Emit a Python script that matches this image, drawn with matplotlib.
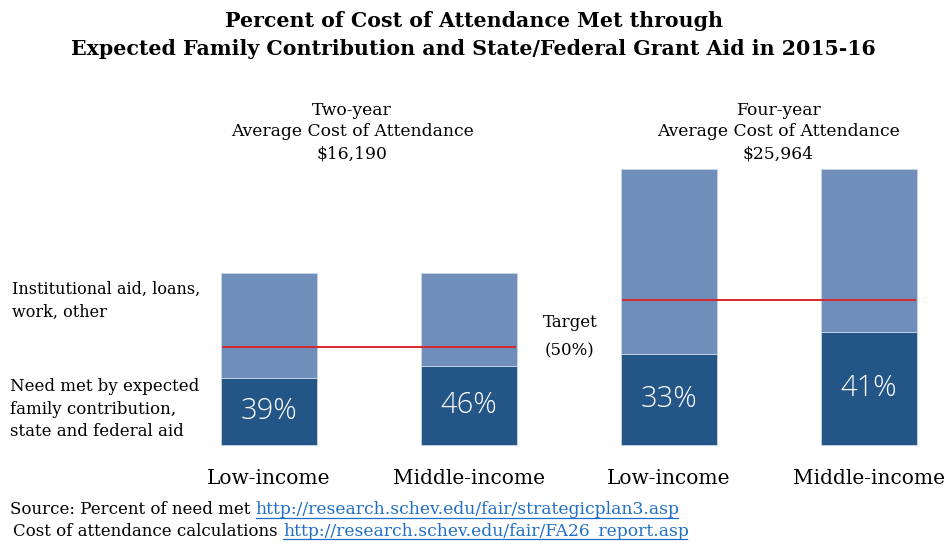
import matplotlib
matplotlib.use("Agg")
import matplotlib.pyplot as plt
from matplotlib.lines import Line2D

# data
categories = ["Low-income", "Middle-income", "Low-income", "Middle-income"]
groups = ["Two-year", "Four-year"]
group_cost = [16190, 25964]
cost = [16190, 16190, 25964, 25964]
pct_met = [39, 46, 33, 41]
# target line level as share of the bar (as drawn in the source)
target_share = [0.57, 0.526]

W, H = 947, 544
fig = plt.figure(figsize=(W / 100, H / 100), dpi=100)
plt.rcParams['font.family'] = ['DejaVu Serif']

def fx(px):
    return px / W

def fy(py):
    return 1 - py / H

# axes covering whole figure, scaled so bars land where they should
ax = fig.add_axes([0, 0, 1, 1])
ppu_x = 200.0
x0px = 268.7
ax.set_xlim((0 - x0px) / ppu_x, (W - x0px) / ppu_x)
ppd = 276.3 / 25964
base_px = 445.0
ax.set_ylim(-(H - base_px) / ppd, base_px / ppd)
ax.axis("off")

light = "#6f8fba"
dark = "#235587"
xs = list(range(len(categories)))
met = [c * p / 100 for c, p in zip(cost, pct_met)]
rest = [c - m for c, m in zip(cost, met)]
ax.bar(xs, met, width=0.48, color=dark, edgecolor="#c9d6e6", linewidth=0.6)
ax.bar(xs, rest, bottom=met, width=0.48, color=light, edgecolor="#c9d6e6", linewidth=0.6)

for x, m, p in zip(xs, met, pct_met):
    ax.text(x, m * 0.5, f"{p}%", color="white", ha="center", va="center",
            fontsize=21, family=["Open Sans", "DejaVu Sans"], fontweight="light")

# target lines
for g, (c, s) in enumerate(zip(group_cost, target_share)):
    ax.plot([2 * g - 0.23, 2 * g + 1 + 0.23], [c * s, c * s], color="#d62830", lw=1.4)

fig.text(fx(570), fy(337), "Target\n(50%)", ha="center", va="center",
         fontsize=12, linespacing=1.9)

for x, lab in zip(xs, categories):
    ax.text(x, -(478 - base_px) / ppd, lab, ha="center", va="center", fontsize=14.5)

# group headers
for g, (name, c) in enumerate(zip(groups, group_cost)):
    fig.text(fx(352 + 426 * g), fy(132),
             f"{name}\nAverage Cost of Attendance\n${c:,}",
             ha="center", va="center", fontsize=12.3, linespacing=1.35)

fig.text(fx(12), fy(301), "Institutional aid, loans,\nwork, other", ha="left", va="center",
         fontsize=11.5, linespacing=1.45)
fig.text(fx(10), fy(409), "Need met by expected\nfamily contribution,\nstate and federal aid",
         ha="left", va="center", fontsize=12, linespacing=1.4)

fig.text(0.5, fy(21), "Percent of Cost of Attendance Met through", ha="center", va="center",
         fontsize=14.8, fontweight="bold")
fig.text(0.5, fy(49), "Expected Family Contribution and State/Federal Grant Aid in 2015-16",
         ha="center", va="center", fontsize=14.8, fontweight="bold")

# source lines with underlined links
link_col = "#1f6fc8"
renderer = fig.canvas.get_renderer()
src = [("Source: Percent of need met ", "http://research.schev.edu/fair/strategicplan3.asp", 10, 510),
       ("Cost of attendance calculations ", "http://research.schev.edu/fair/FA26_report.asp", 13, 531)]
for pre, url, xpx, ypx in src:
    t = fig.text(fx(xpx), fy(ypx), pre, ha="left", va="center", fontsize=12)
    bb = t.get_window_extent(renderer)
    u = fig.text(bb.x1 / W, fy(ypx), url, ha="left", va="center", fontsize=12.3, color=link_col)
    ub = u.get_window_extent(renderer)
    fig.add_artist(Line2D([ub.x0 / W, (ub.x1 - 2) / W], [(ub.y0 + 1) / H, (ub.y0 + 1) / H],
                          color=link_col, lw=0.9))

fig.savefig("out.png", dpi=100)
